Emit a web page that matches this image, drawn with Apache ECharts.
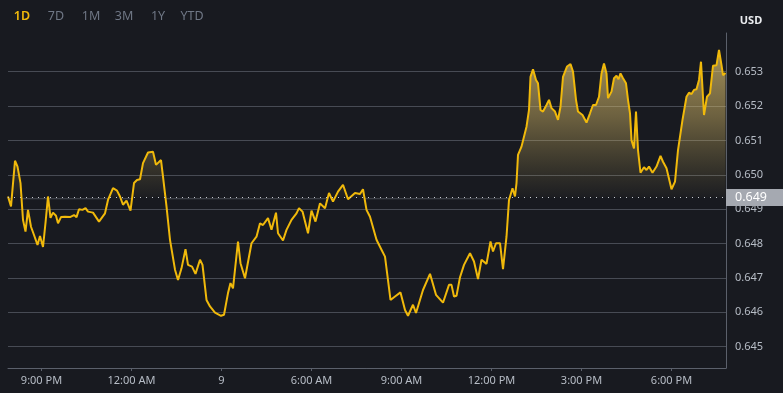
<!DOCTYPE html>
<html>
<head>
<meta charset="utf-8">
<script src="https://cdn.jsdelivr.net/npm/echarts@6/dist/echarts.min.js"></script>
<style>
html,body{margin:0;padding:0;background:#181a20;}
#c{width:783px;height:393px;}
</style>
</head>
<body>
<div id="c"></div>
<script>
// time in minutes relative to 12:00 AM (day 9)
const minutes = [-247,-241,-233,-228,-222,-217,-212,-207,-201,-195,-188,-183,-177,-172,-167,-162,-157,-151,-147,-141,-133,-123,-115,-110,-105,-98,-92,-87,-77,-65,-61,-53,-47,-37,-29,-23,-17,-10,-2,5,11,17,23,33,43,49,53,59,63,70,77,81,87,93,100,108,113,121,128,137,142,150,157,167,179,185,193,198,203,213,218,227,230,240,250,257,263,273,280,283,289,293,303,310,320,330,335,342,353,360,363,368,377,387,395,403,413,423,433,447,457,463,470,477,490,500,507,513,518,527,538,547,553,563,569,583,597,609,623,635,640,645,650,657,665,677,685,693,700,710,718,723,729,737,743,750,755,762,767,770,773,780,783,790,795,798,803,809,813,818,823,830,835,840,847,853,858,863,871,878,883,889,893,902,910,917,923,929,935,940,945,950,953,960,965,970,974,978,983,989,993,997,1000,1005,1009,1013,1018,1025,1030,1035,1042,1050,1058,1063,1070,1080,1087,1093,1102,1110,1115,1120,1125,1130,1135,1139,1145,1151,1157,1163,1170,1175,1180,1183,1188];
const prices = [0.64937,0.64908,0.65041,0.65024,0.64976,0.64869,0.64835,0.64898,0.64849,0.64825,0.64796,0.64822,0.64790,0.64860,0.64937,0.64875,0.64890,0.64881,0.64859,0.64877,0.64878,0.64877,0.64883,0.64877,0.64900,0.64898,0.64903,0.64893,0.64890,0.64864,0.64864,0.64888,0.64927,0.64961,0.64954,0.64937,0.64913,0.64925,0.64896,0.64976,0.64985,0.64987,0.65034,0.65065,0.65067,0.65029,0.65024,0.65043,0.64995,0.64908,0.64811,0.64811,0.64724,0.64694,0.64728,0.64784,0.64738,0.64733,0.64712,0.64753,0.64738,0.64636,0.64617,0.64599,0.64590,0.64593,0.64656,0.64685,0.64670,0.64806,0.64743,0.64699,0.64699,0.64801,0.64820,0.64859,0.64854,0.64874,0.64840,0.64840,0.64890,0.64830,0.64809,0.64840,0.64869,0.64888,0.64903,0.64893,0.64830,0.64896,0.64898,0.64864,0.64917,0.64903,0.64947,0.64922,0.64951,0.64971,0.64929,0.64947,0.64944,0.64958,0.64898,0.64878,0.64811,0.64782,0.64762,0.64694,0.64636,0.64646,0.64658,0.64607,0.64590,0.64622,0.64598,0.64665,0.64712,0.64651,0.64628,0.64680,0.64680,0.64646,0.64648,0.64702,0.64738,0.64772,0.64748,0.64697,0.64753,0.64741,0.64806,0.64777,0.64801,0.64801,0.64726,0.64820,0.64927,0.64961,0.64937,0.64976,0.65058,0.65082,0.65087,0.65140,0.65189,0.65285,0.65307,0.65276,0.65266,0.65189,0.65184,0.65203,0.65218,0.65194,0.65184,0.65160,0.65198,0.65285,0.65315,0.65322,0.65300,0.65218,0.65184,0.65174,0.65152,0.65179,0.65203,0.65203,0.65227,0.65295,0.65324,0.65295,0.65223,0.65242,0.65281,0.65288,0.65278,0.65295,0.65281,0.65266,0.65218,0.65179,0.65101,0.65077,0.65184,0.65072,0.65006,0.65022,0.65014,0.65024,0.65006,0.65024,0.65055,0.65038,0.65019,0.64958,0.64980,0.65072,0.65160,0.65227,0.65239,0.65235,0.65247,0.65249,0.65276,0.65329,0.65174,0.65227,0.65237,0.65317,0.65319,0.65363,0.65319,0.65290,0.65296];
const baseline = 0.64934;
const baselineLabel = '0.649';
const xTickMinutes = [-180,0,180,360,540,720,900,1080];
const xTickLabels = ['9:00 PM','12:00 AM','9','6:00 AM','9:00 AM','12:00 PM','3:00 PM','6:00 PM'];
const yTicks = [0.645,0.646,0.647,0.648,0.649,0.650,0.651,0.652,0.653];
const rangeButtons = ['1D','7D','1M','3M','1Y','YTD'];
const currency = 'USD';

const chart = echarts.init(document.getElementById('c'), null, {renderer:'canvas'});
const data = minutes.map((m,i)=>[m,prices[i]]);
const maxV = Math.max(...prices), minV = Math.min(...prices);
const b = (maxV - baseline)/(maxV - minV);

const btnX = [22,56,91,124,158,192];
const graphics = rangeButtons.map((t,i)=>({
  type:'text', x: btnX[i], y: 10,
  style:{text:t, fill: i===0 ? '#f0b90b' : '#6f7785', font: (i===0?'600 ':'')+'12.5px "Noto Sans"', align:'center'}
}));
graphics.push({type:'text', x:751, y:15, style:{text:currency, fill:'#eaecef', font:'bold 11px "Noto Sans"', align:'center'}});

chart.setOption({
  animation:false,
  backgroundColor:'#181a20',
  grid:{left:8, right:57, top:33, bottom:25, containLabel:false, outerBoundsMode:'none'},
  graphic: graphics,
  xAxis:{
    type:'value', min:-247, max:1189,
    axisLine:{show:true, onZero:false, lineStyle:{color:'#5b606b', width:1}},
    axisTick:{show:true, length:3, customValues:xTickMinutes, lineStyle:{color:'#5b606b'}},
    axisLabel:{customValues:xTickMinutes, color:'#b7bdc6', fontSize:11, fontFamily:'Noto Sans', margin:7,
      formatter:(v)=>{const i=xTickMinutes.indexOf(v); return i>=0?xTickLabels[i]:'';}},
    splitLine:{show:false}
  },
  yAxis:{
    type:'value', position:'right', min:0.644381, max:0.654125, scale:true,
    axisLine:{show:true, onZero:false, lineStyle:{color:'#5b606b', width:1}},
    axisTick:{show:false, customValues:yTicks},
    axisLabel:{customValues:yTicks, color:'#b7bdc6', fontSize:11, fontFamily:'Noto Sans', margin:9,
      formatter:(v)=>v.toFixed(3)},
    splitLine:{show:true, lineStyle:{color:'#474b54', width:1}}
  },
  series:[{
    type:'line', data:data, showSymbol:false, symbol:'none', smooth:false,
    lineStyle:{color:'#f0b90b', width:2},
    areaStyle:{origin:baseline, color:{type:'linear', x:0, y:0, x2:0, y2:1, colorStops:[
      {offset:0, color:'rgba(240,210,120,0.92)'},
      {offset:b*0.45, color:'rgba(232,200,110,0.58)'},
      {offset:b*0.8, color:'rgba(220,190,100,0.22)'},
      {offset:b, color:'rgba(220,190,100,0.03)'},
      {offset:Math.min(1,b+0.002), color:'rgba(100,105,115,0.9)'},
      {offset:Math.min(1,b+0.009), color:'rgba(100,105,115,0)'},
      {offset:1, color:'rgba(100,105,115,0)'}
    ]}},
    markLine:{
      silent:true, symbol:'none', precision:5,
      lineStyle:{color:'#c8ccd2', type:[1,5], width:1},
      label:{show:true, position:'end', distance:0, formatter:baselineLabel,
        backgroundColor:'#a5a9b1', color:'#ffffff', fontSize:12.5, fontFamily:'Noto Sans',
        padding:[2,21,2,9]},
      data:[{yAxis:baseline}]
    },
    z:3
  }]
});
</script>
</body>
</html>
